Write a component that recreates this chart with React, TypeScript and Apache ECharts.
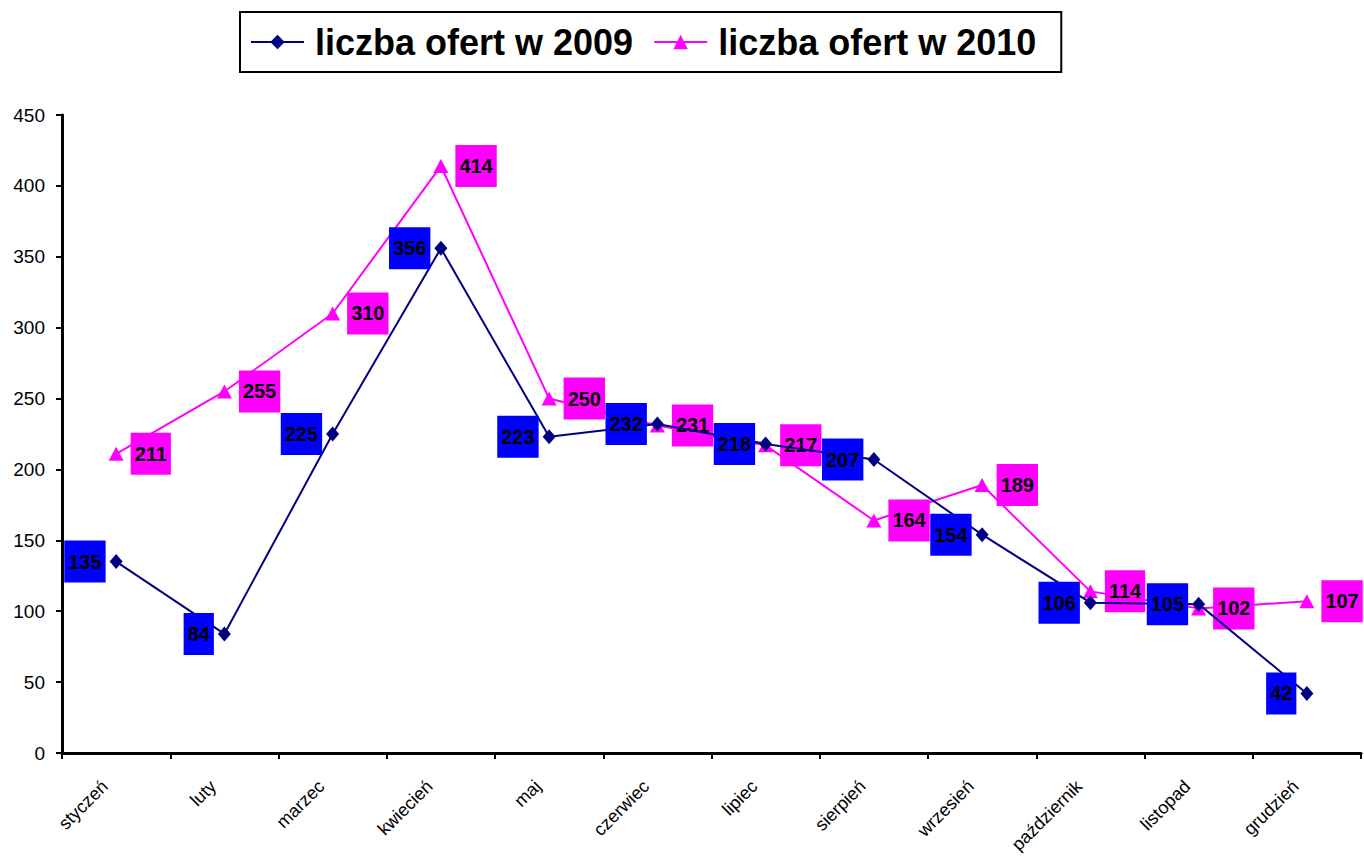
import React, { useEffect, useRef } from "react";
import * as echarts from "echarts";

const categories = ["styczeń", "luty", "marzec", "kwiecień", "maj", "czerwiec", "lipiec", "sierpień", "wrzesień", "październik", "listopad", "grudzień"];
const values2009 = [135, 84, 225, 356, 223, 232, 218, 207, 154, 106, 105, 42];
const values2010 = [211, 255, 310, 414, 250, 231, 217, 164, 189, 114, 102, 107];
const yTicks = { min: 0, max: 450, interval: 50 };

const FONT = "'Liberation Sans', Arial, sans-serif";

export default function App() {
  const ref = useRef<HTMLDivElement>(null);
  useEffect(() => {
    if (!ref.current) return;
    const chart = echarts.init(ref.current, undefined, { renderer: "svg" });
    chart.setOption({
      animation: false,
      backgroundColor: "#ffffff",
      textStyle: { fontFamily: FONT },
      legend: {
        left: 240,
        top: 12,
        padding: [12, 25, 12, 10],
        borderColor: "#000000",
        borderWidth: 2,
        itemWidth: 53,
        itemHeight: 18,
        itemGap: 20,
        textStyle: {
          fontSize: 36,
          fontWeight: "bold",
          color: "#000000",
          fontFamily: FONT,
          padding: [0, 0, 0, 6],
        },
        data: ["liczba ofert w 2009", "liczba ofert w 2010"],
      },
      grid: {
        left: 62,
        right: 3,
        top: 115,
        bottom: 106,
        containLabel: false,
        outerBoundsMode: "none",
      },
      xAxis: {
        type: "category",
        data: categories,
        boundaryGap: true,
        axisLine: { lineStyle: { color: "#000000", width: 3 } },
        axisTick: { show: true, length: 6, lineStyle: { color: "#000000", width: 2 } },
        axisLabel: {
          rotate: 45,
          fontSize: 18,
          color: "#000000",
          fontFamily: FONT,
          margin: 19,
          padding: [0, 16, 0, 0],
          interval: 0,
        },
        splitLine: { show: false },
      },
      yAxis: {
        type: "value",
        min: yTicks.min,
        max: yTicks.max,
        interval: yTicks.interval,
        axisLine: { show: true, lineStyle: { color: "#000000", width: 3 } },
        axisTick: { show: true, length: 6, lineStyle: { color: "#000000", width: 2 } },
        axisLabel: { fontSize: 19, color: "#000000", fontFamily: FONT, margin: 17 },
        splitLine: { show: false },
      },
      series: [
        {
          name: "liczba ofert w 2009",
          type: "line",
          data: values2009,
          symbol: "diamond",
          symbolSize: [13, 15],
          itemStyle: { color: "#000080" },
          lineStyle: { color: "#000080", width: 2 },
          label: {
            show: true,
            position: "left",
            distance: 4,
            backgroundColor: "#0000ff",
            padding: [11, 4, 11, 4],
            color: "#000000",
            fontWeight: "bold",
            fontSize: 20,
            fontFamily: FONT,
          },
          z: 3,
        },
        {
          name: "liczba ofert w 2010",
          type: "line",
          data: values2010,
          symbol: "triangle",
          symbolSize: [15, 14],
          itemStyle: { color: "#ff00ff" },
          lineStyle: { color: "#ff00ff", width: 2 },
          label: {
            show: true,
            position: "right",
            distance: 7,
            backgroundColor: "#ff00ff",
            padding: [11, 4, 11, 4],
            color: "#000000",
            fontWeight: "bold",
            fontSize: 20,
            fontFamily: FONT,
          },
          z: 2,
        },
      ],
    });
    return () => chart.dispose();
  }, []);
  return <div ref={ref} style={{ width: 1364, height: 859, position: "absolute", left: 0, top: 0 }} />;
}
